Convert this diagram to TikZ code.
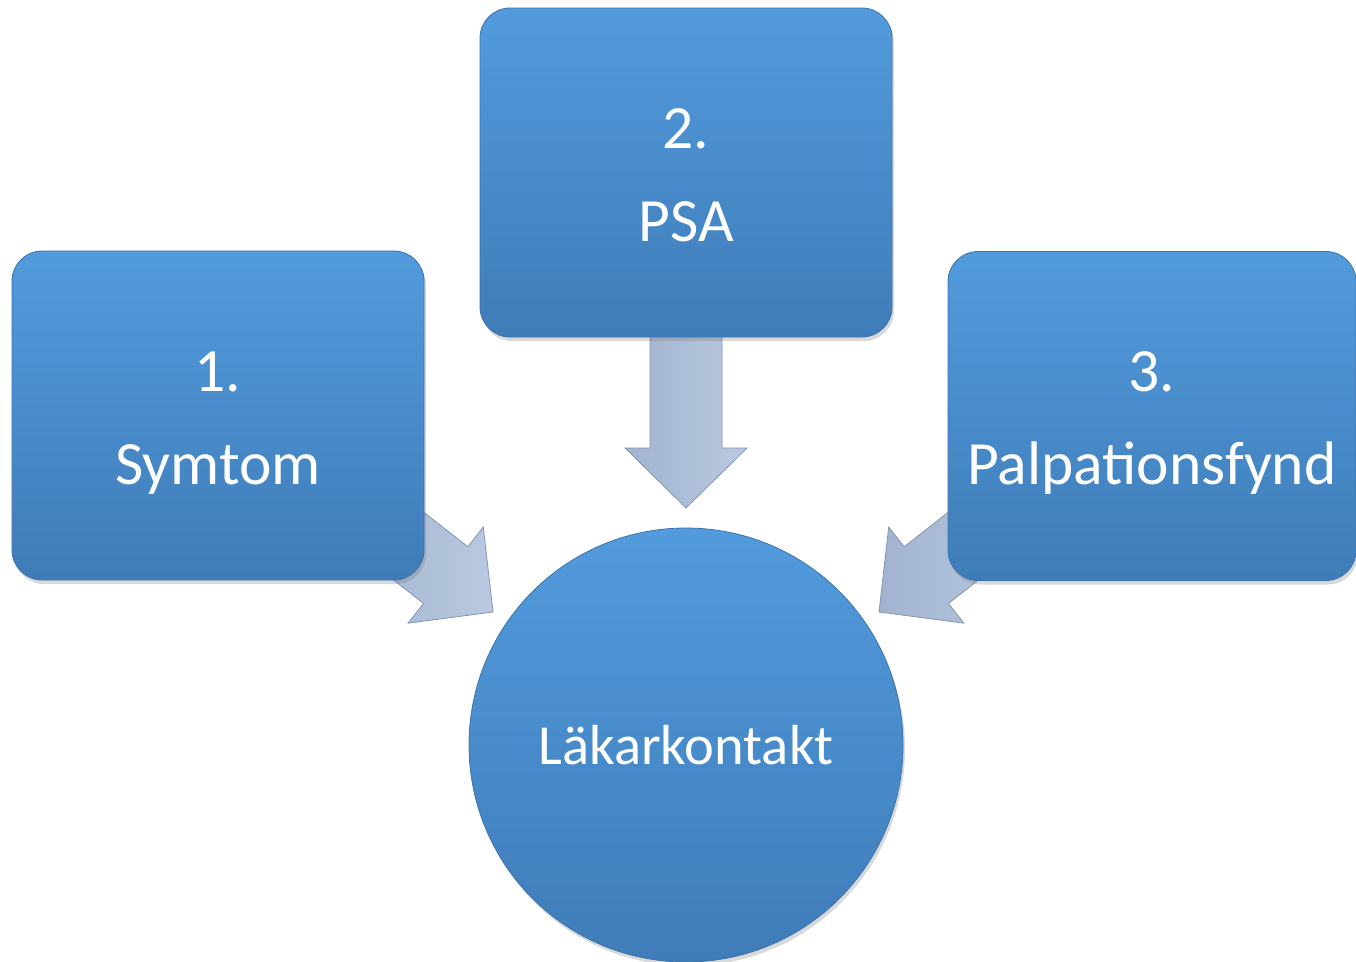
\documentclass[tikz,border=0pt]{standalone}
\usepackage{fontspec}
\setmainfont{Carlito}
\usetikzlibrary{shadows,calc}
\definecolor{boxtop}{HTML}{529BDD}
\definecolor{boxbot}{HTML}{3F7CB8}
\definecolor{boxedge}{HTML}{3B74AE}
\definecolor{arrtop}{HTML}{B9C9E0}
\definecolor{arrbot}{HTML}{A1B3CF}
\definecolor{arredge}{HTML}{8595B2}
\tikzset{
  bluebox/.style={rectangle, rounded corners=30pt, minimum width=412pt, minimum height=329pt,
    top color=boxtop, bottom color=boxbot, draw=boxedge, line width=0.8pt,
    text=white, align=center, font=\fontsize{61.5}{93}\selectfont,
    drop shadow={opacity=0.3, shadow xshift=2pt, shadow yshift=-4pt}},
  bluecircle/.style={circle, minimum size=434pt, inner sep=0pt,
    top color=boxtop, bottom color=boxbot, draw=boxedge, line width=0.8pt,
    text=white, font=\fontsize{56.5}{70}\selectfont,
    drop shadow={opacity=0.3, shadow xshift=2pt, shadow yshift=-4pt}},
  blockarrow/.style={left color=arrbot, right color=arrtop, draw=arredge, line width=0.8pt, line join=miter}
}
\newcommand\myblockarrow[3]{%
  \begin{scope}[shift={(#1)}, rotate=#2]
    \path[blockarrow] (0,0) -- (-60,61) -- (-60,36) -- (-#3,36) -- (-#3,-36) -- (-60,-36) -- (-60,-61) -- cycle;
  \end{scope}}
\begin{document}
\begin{tikzpicture}[x=1pt, y=-1pt]
\useasboundingbox (0,0) rectangle (1356,961);
\clip (0,0) rectangle (1356,961);
% arrow tips (free ends of the block arrows)
\coordinate (tipL) at (493,612);
\coordinate (tipC) at (686,508);
\coordinate (tipR) at (879,612);
% block arrows (drawn first, tails hidden under boxes)
\myblockarrow{tipL}{-38}{165}
\myblockarrow{tipC}{-90}{200}
\myblockarrow{tipR}{-142}{165}
% nodes
\node[bluebox] (symtom) at (218,415.5) {\rule{0pt}{54pt}1.\\Symtom};
\node[bluebox] (psa) at (686,172.5) {\rule{0pt}{46pt}2.\\PSA};
\node[bluebox, minimum width=408pt] (palp) at (1152,416) {\rule{0pt}{54pt}3.\\Palpationsfynd};
\node[bluecircle] (lakar) at (686,745) {Läkarkontakt};
\end{tikzpicture}
\end{document}
